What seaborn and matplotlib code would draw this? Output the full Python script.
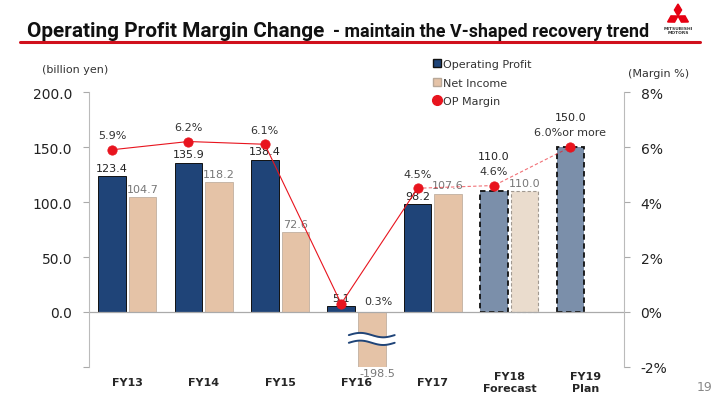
import numpy as np
import pandas as pd
import matplotlib.pyplot as plt
import seaborn as sns
from matplotlib.lines import Line2D
from matplotlib.patches import Polygon

# data
years = ["FY13", "FY14", "FY15", "FY16", "FY17", "FY18\nForecast", "FY19\nPlan"]
op_profit = [123.4, 135.9, 138.4, 5.1, 98.2, 110.0, 150.0]
net_income = [104.7, 118.2, 72.6, -198.5, 107.6, 110.0, np.nan]
op_margin = [5.9, 6.2, 6.1, 0.3, 4.5, 4.6, 6.0]
margin_labels = ["5.9%", "6.2%", "6.1%", "0.3%", "4.5%", "4.6%", "6.0%or more"]
left_ticks = [-50, 0, 50, 100, 150, 200]
right_ticks = [-2, 0, 2, 4, 6, 8]

navy = "#1F4478"
beige = "#E5C3A7"
navy_light = "#7B8FAA"
beige_light = "#EADCCD"
red = "#E8141E"

df = pd.DataFrame({
    "year": years * 2,
    "value": op_profit + net_income,
    "series": ["Operating Profit"] * len(years) + ["Net Income"] * len(years),
})

sns.set_style("white")
plt.rcParams["font.family"] = ["DejaVu Sans"]
title_font = ["Roboto", "Lato", "DejaVu Sans"]

fig = plt.figure(figsize=(7.2, 4.02), dpi=100)
ax = fig.add_axes([0.1236, 0.0846, 0.743, 0.684])

sns.barplot(data=df, x="year", y="value", hue="series", order=years,
            hue_order=["Operating Profit", "Net Income"],
            palette=[navy, beige], saturation=1, width=0.8, gap=0.1, ax=ax, legend=False)

op_bars = ax.containers[0]
ni_bars = ax.containers[1]
for b in op_bars:
    b.set_edgecolor("#111111")
    b.set_linewidth(0.7)
for b in ni_bars:
    b.set_edgecolor("#C0B0A0")
    b.set_linewidth(0.6)
# forecast / plan bars are lighter with dashed borders
for i in (5, 6):
    op_bars[i].set_facecolor(navy_light)
    op_bars[i].set_edgecolor("#111111")
    op_bars[i].set_linestyle((0, (3, 2)))
    op_bars[i].set_linewidth(1.3)
ni_bars[5].set_facecolor(beige_light)
ni_bars[5].set_edgecolor("#A09890")
ni_bars[5].set_linestyle((0, (3, 2)))
ni_bars[5].set_linewidth(0.8)

ax.set_xlim(-0.5, 6.5)
ax.set_ylim(-50, 200)
ax.set_yticks(left_ticks)
ax.set_yticklabels(["" if t < 0 else f"{t:.1f}" for t in left_ticks], fontsize=10, color="#222222")
ax.set_xlabel("")
ax.set_ylabel("")
ax.tick_params(axis="x", length=0, pad=11)
for lbl in ax.get_xticklabels():
    lbl.set_fontweight("bold")
    lbl.set_fontsize(8)
    lbl.set_verticalalignment("center")
ax.tick_params(axis="y", length=4, color="#AAAAAA", direction="out", pad=8)
for s in ["top", "right", "bottom"]:
    ax.spines[s].set_visible(False)
ax.spines["left"].set_color("#BBBBBB")
ax.axhline(0, color="#AAAAAA", lw=0.9, zorder=1)

# broken-axis marks on FY16 net income bar
xw = np.linspace(3.2 - 0.3, 3.2 + 0.3, 60)
wave = 2.0 * np.sin((xw - xw[0]) / 0.6 * 2 * np.pi)
ax.fill_between(xw, -22 + wave, -27 + wave, color="white", zorder=3)
ax.plot(xw, -21 + wave, color=navy, lw=1.4, zorder=4)
ax.plot(xw, -28 + wave, color=navy, lw=1.4, zorder=4)

# value labels
for i, v in enumerate(op_profit):
    if i >= 5:
        continue
    ax.text(i - 0.2, v + 3, f"{v:.1f}", ha="center", va="bottom", fontsize=8, color="#222222")
for i, v in enumerate(net_income):
    if np.isnan(v) or i == 5:
        continue
    if v > 0:
        ax.text(i + 0.2, v + 3, f"{v:.1f}", ha="center", va="bottom", fontsize=8, color="#777777")
    else:
        ax.text(i + 0.27, -50.5, f"{v:.1f}", ha="center", va="top", fontsize=8,
                color="#777777", clip_on=False)
ax.text(5.2, 110 + 3, "110.0", ha="center", va="bottom", fontsize=8, color="#777777")

# margin line on the right axis
ax2 = ax.twinx()
ax2.set_ylim(-2, 8)
ax2.set_yticks(right_ticks)
ax2.set_yticklabels([f"{t}%" for t in right_ticks], fontsize=10, color="#222222")
ax2.tick_params(axis="y", length=4, color="#AAAAAA", direction="out", pad=8)
for s in ["top", "left", "bottom"]:
    ax2.spines[s].set_visible(False)
ax2.spines["right"].set_color("#BBBBBB")

xm = np.arange(len(years)) - 0.2
ax2.plot(xm[:5], op_margin[:5], color=red, lw=0.8)
ax2.plot(xm[4:], op_margin[4:], color=red, lw=0.8, ls=(0, (3, 2)), alpha=0.6)
sns.scatterplot(x=xm, y=op_margin, color=red, s=45, edgecolor=red, zorder=5, ax=ax2, legend=False)
ax2.set_xlim(-0.5, 6.5)

for i, (m, lab) in enumerate(zip(op_margin, margin_labels)):
    if i == 3:
        ax2.text(xm[i] + 0.3, m + 0.1, lab, ha="left", va="center", fontsize=8, color="#333333")
        continue
    ax2.text(xm[i], m + 0.35, lab, ha="center", va="bottom", fontsize=8, color="#333333")
    if i >= 5:
        ax2.text(xm[i], m + 0.9, f"{op_profit[i]:.1f}", ha="center", va="bottom",
                 fontsize=8, color="#222222")

# axis captions
fig.text(0.058, 0.826, "(billion yen)", fontsize=8, color="#333333", va="center")
fig.text(0.872, 0.815, "(Margin %)", fontsize=8, color="#333333", va="center", ha="left")

# legend
handles = [
    Line2D([], [], marker="s", ls="", markersize=6, markerfacecolor=navy, markeredgecolor="#111111"),
    Line2D([], [], marker="s", ls="", markersize=6, markerfacecolor=beige, markeredgecolor="#B8A898"),
    Line2D([], [], marker="o", ls="", markersize=7, markerfacecolor=red, markeredgecolor=red),
]
fig.legend(handles, ["Operating Profit", "Net Income", "OP Margin"], loc="upper left",
           bbox_to_anchor=(0.585, 0.875), frameon=False, fontsize=8, handletextpad=0.1,
           handlelength=1.0, labelspacing=0.75, labelcolor="#333333")

# title: size each part to the width it takes on the slide
fig.canvas.draw()
def fitted_text(x, text, base, width_px):
    t = fig.text(x, 0.908, text, fontsize=base, fontweight="bold", color="#111111",
                 va="baseline", family=title_font)
    w = t.get_window_extent(fig.canvas.get_renderer()).width
    t.set_fontsize(base * width_px / w)
    return t

t1 = fitted_text(27 / 720, "Operating Profit Margin Change", 14, 298)
fitted_text(333 / 720, "- maintain the V-shaped recovery trend", 12, 314)
fig.add_artist(Line2D([20 / 720, 700 / 720], [0.893, 0.893], color="#D0101C", lw=2.2))

# logo: three diamonds around a centre point
cx, cy, L, hw = 678, 17, 12, 3.6
for ang in (90, 210, 330):
    d = np.array([np.cos(np.radians(ang)), np.sin(np.radians(ang))])
    pv = np.array([-d[1], d[0]])
    c = np.array([cx, 402 - cy])
    pts = [c, c + d * L / 2 + pv * hw, c + d * L, c + d * L / 2 - pv * hw]
    pts = [(p[0] / 720, p[1] / 402) for p in pts]
    fig.add_artist(Polygon(pts, closed=True, color="#E60012", transform=fig.transFigure))
fig.text(cx / 720, 1 - 26.5 / 402, "MITSUBISHI\nMOTORS", fontsize=3.2, ha="center", va="top",
         color="#333333", fontweight="bold", linespacing=1.1)

fig.text(0.978, 0.02, "19", fontsize=9, color="#888888", ha="center", va="bottom")

fig.savefig("out.png", dpi=100)
